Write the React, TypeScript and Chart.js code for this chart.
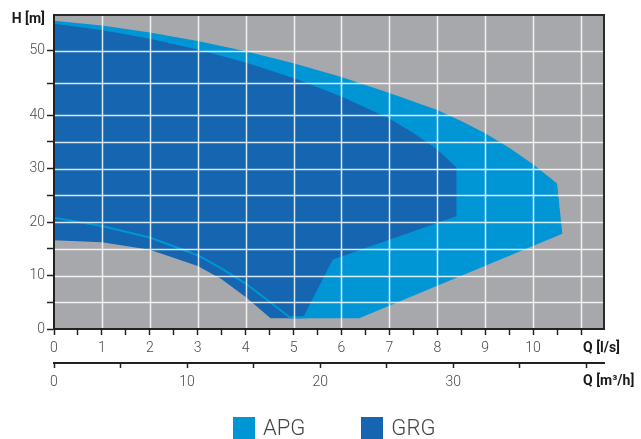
import React, { useEffect, useRef } from 'react';
import { Chart, registerables, LinearScale } from 'chart.js';

Chart.register(...registerables);

// ---- data (Q in l/s, H in m) ----
const seriesNames = ['APG', 'GRG'];
const seriesColors = ['#0096d6', '#1665b0'];

// APG working envelope, traced clockwise
const apgQ = [0, 1, 2, 3, 4, 5, 6, 7, 8, 8.5, 9, 9.5, 10, 10.5, 10.61, 6.37, 4.92, 4.5, 4, 3.5, 3, 2, 1, 0];
const apgH = [54.69, 53.95, 52.89, 51.56, 49.97, 48.09, 45.94, 43.44, 40.78, 38.9, 36.6, 33.9, 30.8, 27.2, 17.8, 2.0, 2.0, 5.1, 8.5, 11.3, 13.8, 17.1, 19.25, 20.8];

// GRG working envelope, traced clockwise
const grgQ = [0, 1, 2, 3, 4, 5, 6, 7, 7.5, 8, 8.4, 8.4, 5.82, 5.19, 4.52, 4, 3.5, 3, 2, 1, 0];
const grgH = [54.22, 53.28, 51.91, 50.23, 48.2, 45.78, 42.89, 39.35, 36.64, 33.55, 30.22, 21.1, 13.0, 2.0, 2.0, 6.0, 9.3, 11.8, 14.8, 16.2, 16.6];

// APG lower-left limit curve (visible over GRG)
const apgLowQ = [0, 1, 2, 3, 3.5, 4, 4.5, 4.92, 5.3];
const apgLowH = [20.8, 19.25, 17.1, 13.8, 11.3, 8.5, 5.1, 2.2, 2.2];

// axes
const qMax = 11.48;
const hMax = 55.6;
const m3hPerLs = 3.6;
const qLabels = [0, 1, 2, 3, 4, 5, 6, 7, 8, 9, 10];
const m3hLabels = [0, 10, 20, 30];
const hLabels = [0, 10, 20, 30, 40, 50];
const qGrid = [1, 2, 3, 4, 5, 6, 7, 8, 9, 10, 11];
const hGrid = [5, 10, 15, 20, 25, 30, 35, 40, 45, 50];
const qTickStep = 0.5;
const m3hTickStep = 5;
const hTickStep = 5;
const hTickMax = 50;

// the original H axis is drawn stretched above 40 m
const H_BREAK = 40;
const H_STRETCH = 1.2;
const warp = (v: number) => (v <= H_BREAK ? v : H_BREAK + (v - H_BREAK) * H_STRETCH);
const unwarp = (w: number) => (w <= H_BREAK ? w : H_BREAK + (w - H_BREAK) / H_STRETCH);

class StretchedLinearScale extends LinearScale {
  static id = 'stretchedLinear';
  getPixelForValue(value: number) {
    if (value === null || value === undefined) return NaN;
    const lo = warp(this.min);
    const hi = warp(this.max);
    return this.getPixelForDecimal((warp(value) - lo) / (hi - lo));
  }
  getValueForPixel(pixel: number) {
    const lo = warp(this.min);
    const hi = warp(this.max);
    return unwarp(lo + this.getDecimalForPixel(pixel) * (hi - lo));
  }
}
Chart.register(StretchedLinearScale as any);

const PLOT_BG = '#a7a8ab';
const AXIS_DARK = '#222222';
const GRID_WHITE = '#ffffff';
const LABEL_COLOR = '#4a4a4a';
const FONT = 'Roboto';

const toPoints = (xs: number[], ys: number[]) => xs.map((x, i) => ({ x, y: ys[i] }));
const range = (max: number, step: number) => {
  const out: number[] = [];
  for (let v = 0; v <= max + 1e-9; v += step) out.push(Math.round(v * 1000) / 1000);
  return out;
};

const decorPlugin = {
  id: 'decor',
  beforeDraw(chart: any) {
    const { ctx, chartArea: a } = chart;
    ctx.save();
    ctx.fillStyle = PLOT_BG;
    ctx.fillRect(a.left, a.top, a.right - a.left, a.bottom - a.top);
    ctx.restore();
  },
  afterDraw(chart: any) {
    const { ctx, chartArea: a, scales } = chart;
    ctx.save();
    // white grid over the filled areas
    ctx.globalAlpha = 0.85;
    ctx.strokeStyle = GRID_WHITE;
    ctx.lineWidth = 1.5;
    ctx.beginPath();
    for (const q of qGrid) {
      const px = Math.round(scales.x.getPixelForValue(q)) + 0.5;
      ctx.moveTo(px, a.top);
      ctx.lineTo(px, a.bottom);
    }
    for (const h of hGrid) {
      const py = Math.round(scales.y.getPixelForValue(h)) + 0.5;
      ctx.moveTo(a.left, py);
      ctx.lineTo(a.right, py);
    }
    ctx.stroke();
    ctx.globalAlpha = 1;
    // frame
    ctx.strokeStyle = '#2b2b2b';
    ctx.lineWidth = 2;
    ctx.beginPath();
    ctx.moveTo(a.left, a.top);
    ctx.lineTo(a.right, a.top);
    ctx.lineTo(a.right, a.bottom);
    ctx.stroke();
    ctx.strokeStyle = AXIS_DARK;
    ctx.beginPath();
    ctx.moveTo(a.left, a.top);
    ctx.lineTo(a.left, a.bottom);
    ctx.lineTo(a.right, a.bottom);
    ctx.stroke();
    // axis titles
    ctx.fillStyle = '#1a1a1a';
    ctx.font = `bold 14px ${FONT}`;
    ctx.textBaseline = 'middle';
    ctx.textAlign = 'right';
    ctx.fillText('H [m]', a.left - 9, a.top + 4);
    ctx.textAlign = 'left';
    ctx.fillText('Q [l/s]', a.right - 21, scales.x.top + 19);
    ctx.fillText('Q [m³/h]', a.right - 21, scales.x2.top + 18);
    ctx.restore();
  },
};

const tickFont = { family: FONT, size: 14, weight: '300' as any };

export default function App() {
  const ref = useRef<HTMLCanvasElement | null>(null);

  useEffect(() => {
    if (!ref.current) return;
    const chart = new Chart(ref.current, {
      type: 'line',
      data: {
        datasets: [
          {
            label: seriesNames[0],
            data: toPoints(apgQ, apgH),
            backgroundColor: seriesColors[0],
            borderWidth: 0,
            pointRadius: 0,
            fill: 'shape',
            tension: 0,
            order: 3,
          },
          {
            label: seriesNames[1],
            data: toPoints(grgQ, grgH),
            backgroundColor: seriesColors[1],
            borderWidth: 0,
            pointRadius: 0,
            fill: 'shape',
            tension: 0,
            order: 2,
          },
          {
            label: 'APG limit',
            data: toPoints(apgLowQ, apgLowH),
            borderColor: seriesColors[0],
            borderWidth: 2,
            pointRadius: 0,
            fill: false,
            tension: 0,
            order: 1,
          },
        ],
      },
      options: {
        responsive: false,
        animation: false,
        events: [],
        layout: { padding: { top: 15, right: 37, bottom: 36, left: 0 } },
        plugins: { legend: { display: false }, tooltip: { enabled: false } },
        scales: {
          x: {
            type: 'linear',
            position: 'bottom',
            weight: 0,
            min: 0,
            max: qMax,
            afterBuildTicks: (s: any) => {
              s.ticks = range(qMax, qTickStep).map((value) => ({ value }));
            },
            afterFit: (s: any) => {
              s.height = 34;
            },
            ticks: {
              autoSkip: false,
              maxRotation: 0,
              padding: 5,
              color: LABEL_COLOR,
              font: tickFont,
              callback: (v: any) => (qLabels.includes(Number(v)) ? String(v) : ''),
            },
            grid: {
              drawOnChartArea: false,
              tickLength: 6,
              tickColor: AXIS_DARK,
              tickWidth: 1.5,
            },
            border: { display: true, color: AXIS_DARK, width: 2 },
          },
          x2: {
            type: 'linear',
            position: 'bottom',
            weight: 1,
            min: 0,
            max: qMax * m3hPerLs,
            afterBuildTicks: (s: any) => {
              s.ticks = range(qMax * m3hPerLs, m3hTickStep).map((value) => ({ value }));
            },
            afterFit: (s: any) => {
              s.height = 40;
            },
            ticks: {
              autoSkip: false,
              maxRotation: 0,
              padding: 6,
              color: LABEL_COLOR,
              font: tickFont,
              callback: (v: any) => (m3hLabels.includes(Number(v)) ? String(v) : ''),
            },
            grid: {
              drawOnChartArea: false,
              tickLength: 5,
              tickColor: AXIS_DARK,
              tickWidth: 1.5,
            },
            border: { display: true, color: AXIS_DARK, width: 2 },
          },
          y: {
            type: 'stretchedLinear' as any,
            position: 'left',
            min: 0,
            max: hMax,
            afterBuildTicks: (s: any) => {
              s.ticks = range(hTickMax, hTickStep).map((value) => ({ value }));
            },
            afterFit: (s: any) => {
              s.width = 54;
            },
            ticks: {
              autoSkip: false,
              padding: 2,
              color: LABEL_COLOR,
              font: tickFont,
              callback: (v: any) => (hLabels.includes(Number(v)) ? String(v) : ''),
            },
            grid: {
              drawOnChartArea: false,
              tickLength: 7,
              tickColor: AXIS_DARK,
              tickWidth: 1.5,
            },
            border: { display: true, color: AXIS_DARK, width: 2 },
          },
        } as any,
      },
      plugins: [decorPlugin],
    } as any);
    return () => chart.destroy();
  }, []);

  return (
    <div style={{ position: 'absolute', left: 0, top: 0, width: 641, height: 439, background: '#fff' }}>
      <canvas ref={ref} width={641} height={439} style={{ display: 'block' }} />
      <div
        style={{
          position: 'absolute',
          left: 233,
          top: 417,
          display: 'flex',
          gap: 56,
          alignItems: 'center',
          fontFamily: FONT,
          fontWeight: 300,
          fontSize: 22,
          lineHeight: '22px',
          color: '#444',
        }}
      >
        {seriesNames.map((name, i) => (
          <div key={name} style={{ display: 'flex', alignItems: 'center' }}>
            <span style={{ display: 'inline-block', width: 22, height: 22, background: seriesColors[i], marginRight: 8 }} />
            <span>{name}</span>
          </div>
        ))}
      </div>
    </div>
  );
}
